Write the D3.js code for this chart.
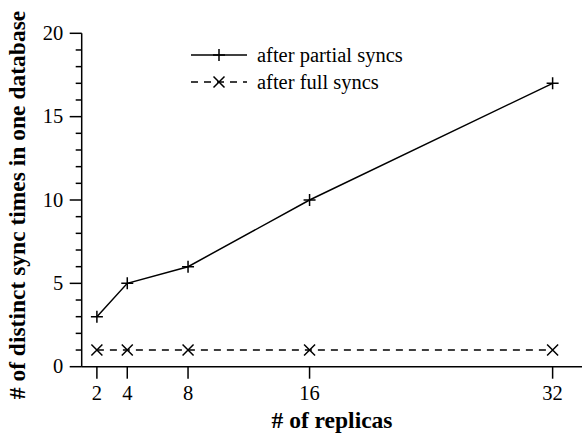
<!DOCTYPE html>
<html>
<head>
<meta charset="utf-8">
<script src="https://cdn.jsdelivr.net/npm/d3@7"></script>
<style>
  body { margin: 0; background: #fff; }
  svg { display: block; font-family: "Liberation Serif", "Times New Roman", serif; }
</style>
</head>
<body>
<div id="chart"></div>
<script>
(function(){
    // data
    const replicas = [2, 4, 8, 16, 32];
    const partialSyncs = [3, 5, 6, 10, 17];
    const fullSyncs = [1, 1, 1, 1, 1];
    const yTicks = [0, 5, 10, 15, 20];
    const seriesNames = ["after partial syncs", "after full syncs"];

    const width = 582;
    const height = 439;

    const svg = d3.select("#chart").append("svg")
        .attr("width", width)
        .attr("height", height);

    // scales
    const x = d3.scaleLinear().domain([1, 34]).range([81.7, 583]);
    const y = d3.scaleLinear().domain([0, 20]).range([366.7, 33.3]);

    const black = "#000";

    // y axis: minor ticks every unit, major every 5
    const yAxis = svg.append("g").attr("transform", `translate(${x(1)},0)`);
    yAxis.append("line")
        .attr("x1", 0).attr("x2", 0)
        .attr("y1", y(0)).attr("y2", y(20))
        .attr("stroke", black).attr("stroke-width", 1.5);
    yAxis.selectAll("line.minor")
        .data(d3.range(0, 21))
        .enter().append("line")
        .attr("class", "minor")
        .attr("x1", d => d % 5 === 0 ? -12 : -6).attr("x2", 0)
        .attr("y1", d => y(d)).attr("y2", d => y(d))
        .attr("stroke", black).attr("stroke-width", 1.5);
    yAxis.selectAll("text")
        .data(yTicks)
        .enter().append("text")
        .attr("x", -18.5)
        .attr("y", d => y(d))
        .attr("dy", "0.33em")
        .attr("text-anchor", "end")
        .attr("font-size", 20.5)
        .text(d => d);

    // x axis
    const xAxis = svg.append("g").attr("transform", `translate(0,${y(0)})`);
    xAxis.append("line")
        .attr("x1", x(1)).attr("x2", x(34))
        .attr("y1", 0).attr("y2", 0)
        .attr("stroke", black).attr("stroke-width", 1.5);
    xAxis.selectAll("line.tick")
        .data(replicas)
        .enter().append("line")
        .attr("class", "tick")
        .attr("x1", d => x(d)).attr("x2", d => x(d))
        .attr("y1", 0).attr("y2", 12)
        .attr("stroke", black).attr("stroke-width", 1.5);
    xAxis.selectAll("text")
        .data(replicas)
        .enter().append("text")
        .attr("x", d => x(d))
        .attr("y", 33.5)
        .attr("text-anchor", "middle")
        .attr("font-size", 20.5)
        .text(d => d);

    // axis titles
    svg.append("text")
        .attr("transform", "translate(25,205) rotate(-90)")
        .attr("text-anchor", "middle")
        .attr("font-size", 23.5)
        .attr("font-weight", "bold")
        .text("# of distinct sync times in one database");
    svg.append("text")
        .attr("x", 332)
        .attr("y", 428)
        .attr("text-anchor", "middle")
        .attr("font-size", 23.5)
        .attr("font-weight", "bold")
        .text("# of replicas");

    // markers
    const plus = (g, cx, cy) => {
        g.append("path")
            .attr("d", `M${cx - 6},${cy}H${cx + 6}M${cx},${cy - 6}V${cy + 6}`)
            .attr("stroke", black).attr("stroke-width", 1.5).attr("fill", "none");
    };
    const cross = (g, cx, cy) => {
        g.append("path")
            .attr("d", `M${cx - 5.5},${cy - 5.5}L${cx + 5.5},${cy + 5.5}M${cx - 5.5},${cy + 5.5}L${cx + 5.5},${cy - 5.5}`)
            .attr("stroke", black).attr("stroke-width", 1.5).attr("fill", "none");
    };

    const line = d3.line().x(d => x(d[0])).y(d => y(d[1]));

    const partial = d3.zip(replicas, partialSyncs);
    const full = d3.zip(replicas, fullSyncs);

    svg.append("path")
        .datum(partial)
        .attr("d", line)
        .attr("fill", "none")
        .attr("stroke", black)
        .attr("stroke-width", 1.5);
    const pm = svg.append("g");
    partial.forEach(d => plus(pm, x(d[0]), y(d[1])));

    svg.append("path")
        .datum(full)
        .attr("d", line)
        .attr("fill", "none")
        .attr("stroke", black)
        .attr("stroke-width", 1.5)
        .attr("stroke-dasharray", "7,6");
    const fm = svg.append("g");
    full.forEach(d => cross(fm, x(d[0]), y(d[1])));

    // legend
    const legend = svg.append("g");
    const rows = [55, 82];
    legend.append("line")
        .attr("x1", 191).attr("x2", 247).attr("y1", rows[0]).attr("y2", rows[0])
        .attr("stroke", black).attr("stroke-width", 1.5);
    plus(legend, 219, rows[0]);
    legend.append("line")
        .attr("x1", 191).attr("x2", 247).attr("y1", rows[1]).attr("y2", rows[1])
        .attr("stroke", black).attr("stroke-width", 1.5)
        .attr("stroke-dasharray", "7,6");
    cross(legend, 219, rows[1]);
    legend.selectAll("text")
        .data(seriesNames)
        .enter().append("text")
        .attr("x", 257)
        .attr("y", (d, i) => rows[i])
        .attr("dy", "0.33em")
        .attr("font-size", 20.5)
        .text(d => d);
})();
</script>
</body>
</html>
